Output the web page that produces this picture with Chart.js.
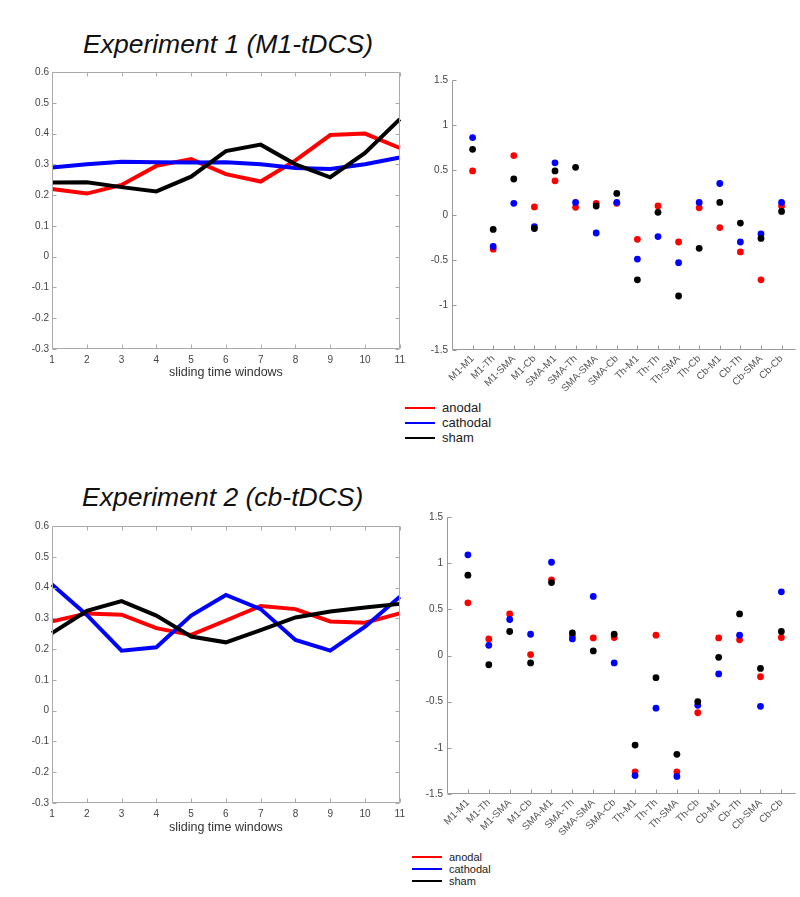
<!DOCTYPE html>
<html>
<head>
<meta charset="utf-8">
<script src="https://cdn.jsdelivr.net/npm/chart.js@4.4.1/dist/chart.umd.min.js"></script>
<style>
    body { margin: 0; background: #fff; width: 800px; height: 897px; position: relative; overflow: hidden; font-family: "Liberation Sans", Arial, sans-serif; }
    .box { position: absolute; }
    .title { position: absolute; font-style: italic; font-size: 26.5px; line-height: 30px; color: #111; white-space: nowrap; }
    .legend { position: absolute; color: #222; }
    .legend-row { display: flex; align-items: center; }
    .legend-line { display: inline-block; width: 30px; height: 2px; margin-right: 7px; }
</style>
</head>
<body>
<div class="title" style="left:83px; top:29px;">Experiment 1 (M1-tDCS)</div>
<div class="title" style="left:82px; top:482px;">Experiment 2 (cb-tDCS)</div>

<div class="box" style="left:10px; top:62px; width:400px; height:318px;"><canvas id="exp1Lines"></canvas></div>
<div class="box" style="left:410px; top:70px; width:390px; height:330px;"><canvas id="exp1Conn"></canvas></div>
<div class="box" style="left:10px; top:516px; width:400px; height:319px;"><canvas id="exp2Lines"></canvas></div>
<div class="box" style="left:405px; top:507px; width:395px; height:340px;"><canvas id="exp2Conn"></canvas></div>

<div class="legend" id="legend1" style="left:405px; top:400px; font-size:13px;"></div>
<div class="legend" id="legend2" style="left:412px; top:851px; font-size:11px;"></div>

<script>
// x categories
const windows = ['1', '2', '3', '4', '5', '6', '7', '8', '9', '10', '11'];
const regions = ['M1-M1', 'M1-Th', 'M1-SMA', 'M1-Cb', 'SMA-M1', 'SMA-Th', 'SMA-SMA', 'SMA-Cb',
                 'Th-M1', 'Th-Th', 'Th-SMA', 'Th-Cb', 'Cb-M1', 'Cb-Th', 'Cb-SMA', 'Cb-Cb'];
const groups = ['anodal', 'cathodal', 'sham'];
const groupColors = ['#ff0000', '#0000ff', '#000000'];

// Experiment 1 - sliding time windows
const exp1Anodal   = [0.22, 0.205, 0.233, 0.295, 0.317, 0.268, 0.244, 0.313, 0.395, 0.40, 0.353];
const exp1Cathodal = [0.29, 0.30, 0.308, 0.307, 0.306, 0.307, 0.30, 0.288, 0.285, 0.30, 0.322];
const exp1Sham     = [0.241, 0.242, 0.226, 0.212, 0.26, 0.343, 0.364, 0.30, 0.258, 0.337, 0.447];

// Experiment 1 - connections
const exp1AnodalConn   = [0.49, -0.38, 0.66, 0.09, 0.38, 0.085, 0.13, 0.13, -0.27, 0.10, -0.30, 0.08, -0.14, -0.41, -0.72, 0.10];
const exp1CathodalConn = [0.86, -0.35, 0.13, -0.13, 0.58, 0.14, -0.20, 0.14, -0.49, -0.24, -0.53, 0.14, 0.35, -0.30, -0.21, 0.14];
const exp1ShamConn     = [0.73, -0.16, 0.40, -0.15, 0.49, 0.53, 0.10, 0.24, -0.72, 0.03, -0.90, -0.37, 0.14, -0.09, -0.26, 0.04];

// Experiment 2 - sliding time windows
const exp2Anodal   = [0.29, 0.316, 0.312, 0.268, 0.246, 0.293, 0.34, 0.33, 0.29, 0.286, 0.316];
const exp2Cathodal = [0.41, 0.311, 0.195, 0.206, 0.309, 0.376, 0.33, 0.23, 0.195, 0.273, 0.37];
const exp2Sham     = [0.252, 0.324, 0.356, 0.309, 0.241, 0.222, 0.262, 0.303, 0.322, 0.335, 0.347];

// Experiment 2 - connections
const exp2AnodalConn   = [0.57, 0.18, 0.45, 0.01, 0.82, 0.21, 0.19, 0.195, -1.26, 0.22, -1.26, -0.62, 0.19, 0.17, -0.23, 0.195];
const exp2CathodalConn = [1.09, 0.11, 0.39, 0.23, 1.01, 0.18, 0.64, -0.08, -1.30, -0.57, -1.31, -0.54, -0.20, 0.22, -0.55, 0.69];
const exp2ShamConn     = [0.87, -0.10, 0.26, -0.08, 0.79, 0.245, 0.05, 0.23, -0.97, -0.24, -1.07, -0.50, -0.02, 0.45, -0.14, 0.26];

// axis frame with inward ticks (matlab style)
const framePlugin = {
    id: 'frame',
    afterDraw(chart, args, opts) {
        const { ctx, chartArea: a } = chart;
        const xs = chart.scales.x, ys = chart.scales.y;
        const tl = 4;
        const L = Math.round(a.left) + 0.5, R = Math.round(a.right) - 0.5;
        const T = Math.round(a.top) + 0.5, B = Math.round(a.bottom) - 0.5;
        ctx.save();
        ctx.strokeStyle = opts.color;
        ctx.lineWidth = 1;
        ctx.beginPath();
        ctx.moveTo(L, T);
        ctx.lineTo(L, B);
        ctx.lineTo(R, B);
        if (opts.box) {
            ctx.lineTo(R, T);
            ctx.closePath();
        }
        xs.ticks.forEach((t, i) => {
            const px = Math.round(xs.getPixelForTick(i)) + 0.5;
            ctx.moveTo(px, B); ctx.lineTo(px, B - tl);
            if (opts.box) { ctx.moveTo(px, T); ctx.lineTo(px, T + tl); }
        });
        ys.ticks.forEach((t, i) => {
            const py = Math.round(ys.getPixelForTick(i)) + 0.5;
            ctx.moveTo(L, py); ctx.lineTo(L + tl, py);
            if (opts.box) { ctx.moveTo(R, py); ctx.lineTo(R - tl, py); }
        });
        ctx.stroke();
        ctx.restore();
    }
};
Chart.register(framePlugin);

const tickFont = { family: '"Liberation Sans", Arial, sans-serif', size: 10 };

function makeLineChart(id, series, xHeight) {
    return new Chart(document.getElementById(id), {
        type: 'line',
        data: {
            labels: windows,
            datasets: groups.map((g, i) => ({
                label: g,
                data: series[i],
                borderColor: groupColors[i],
                borderWidth: 4,
                pointRadius: 0,
                tension: 0,
                fill: false,
                order: groups.length - i
            }))
        },
        options: {
            animation: false,
            responsive: true,
            maintainAspectRatio: false,
            layout: { padding: { top: 10, right: 6, left: 0, bottom: 0 } },
            plugins: {
                legend: { display: false },
                tooltip: { enabled: false },
                frame: { box: true, color: '#aaaaaa' }
            },
            scales: {
                x: {
                    grid: { display: false, drawTicks: false },
                    border: { display: false },
                    ticks: { color: '#444', font: tickFont, padding: 5, maxRotation: 0, autoSkip: false },
                    title: { display: true, text: 'sliding time windows', color: '#333', font: { family: tickFont.family, size: 12.5 }, padding: 0 },
                    afterFit: s => { s.height = xHeight; }
                },
                y: {
                    min: -0.3,
                    max: 0.6,
                    grid: { display: false, drawTicks: false },
                    border: { display: false },
                    ticks: { stepSize: 0.1, color: '#444', font: tickFont, padding: 3, callback: v => String(+v.toFixed(1)) },
                    afterFit: s => { s.width = 42; }
                }
            }
        }
    });
}

function makeScatterChart(id, series, xHeight) {
    return new Chart(document.getElementById(id), {
        type: 'scatter',
        data: {
            datasets: groups.map((g, i) => ({
                label: g,
                data: series[i].map((v, k) => ({ x: k + 1, y: v })),
                backgroundColor: groupColors[i],
                borderColor: groupColors[i],
                borderWidth: 0,
                pointRadius: 3.4,
                order: groups.length - i
            }))
        },
        options: {
            animation: false,
            responsive: true,
            maintainAspectRatio: false,
            layout: { padding: { top: 10, right: 2, left: 0, bottom: 0 } },
            plugins: {
                legend: { display: false },
                tooltip: { enabled: false },
                frame: { box: false, color: '#999999' }
            },
            scales: {
                x: {
                    type: 'linear',
                    min: 0,
                    max: 16.7,
                    afterBuildTicks: s => { s.ticks = regions.map((r, k) => ({ value: k + 1 })); },
                    grid: { display: false, drawTicks: false },
                    border: { display: false },
                    ticks: { color: '#555', font: tickFont, padding: 3, autoSkip: false, minRotation: 45, maxRotation: 45, callback: v => regions[v - 1] },
                    afterFit: s => { s.height = xHeight; }
                },
                y: {
                    min: -1.5,
                    max: 1.5,
                    grid: { display: false, drawTicks: false },
                    border: { display: false },
                    ticks: { stepSize: 0.5, color: '#444', font: tickFont, padding: 4, callback: v => String(+v.toFixed(1)) },
                    afterFit: s => { s.width = 42; }
                }
            }
        }
    });
}

function buildLegend(id, rowHeight) {
    const el = document.getElementById(id);
    el.innerHTML = groups.map((g, i) => `
        <div class="legend-row" style="height:${rowHeight}px">
            <span class="legend-line" style="background:${groupColors[i]}"></span>${g}
        </div>
    `).join('');
}

makeLineChart('exp1Lines', [exp1Anodal, exp1Cathodal, exp1Sham], 31);
makeScatterChart('exp1Conn', [exp1AnodalConn, exp1CathodalConn, exp1ShamConn], 50);
makeLineChart('exp2Lines', [exp2Anodal, exp2Cathodal, exp2Sham], 32);
makeScatterChart('exp2Conn', [exp2AnodalConn, exp2CathodalConn, exp2ShamConn], 53);

buildLegend('legend1', 15);
buildLegend('legend2', 12);
</script>
</body>
</html>
